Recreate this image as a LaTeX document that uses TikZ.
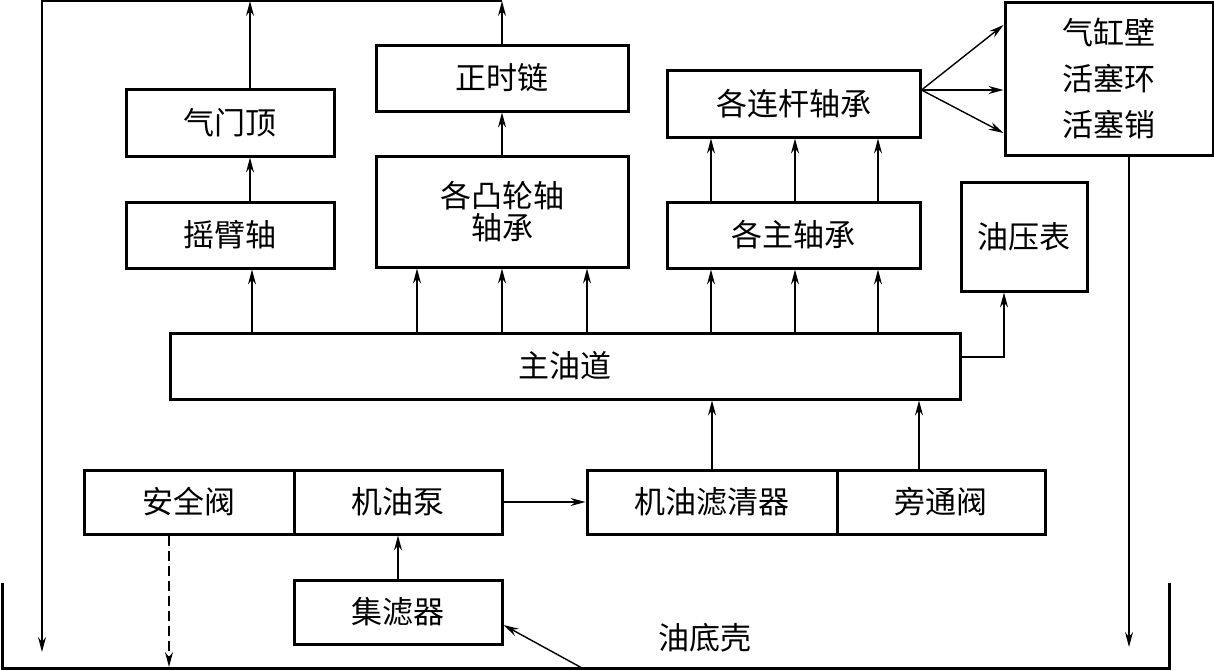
\documentclass[tikz,border=0pt]{standalone}
\usepackage{fontspec}
\newfontfamily\cjkfont{Noto Sans CJK SC}
\usetikzlibrary{arrows.meta}

\begin{document}
\begin{tikzpicture}[
  x=0.5pt, y=-0.5pt,
  partbox/.style={draw, line width=1.5pt, inner sep=0pt, align=center,
    font=\cjkfont\fontsize{15.5}{16}\selectfont},
  oilarrow/.style={-{Stealth[length=7.5pt,width=4pt,inset=2.5pt]}, line width=0.7pt},
  reliefline/.style={oilarrow, dash pattern=on 5pt off 2.5pt},
  panwall/.style={line width=1.5pt}
]
\useasboundingbox (0,0) rectangle (1214,670);

% parts
\node[partbox, minimum width=104pt, minimum height=33.5pt] (valvetop) at (230,122.5) {气门顶};
\node[partbox, minimum width=104pt, minimum height=33pt] (rocker) at (230,235) {摇臂轴};
\node[partbox, minimum width=126pt, minimum height=33pt] (chain) at (502,78) {正时链};
\node[partbox, minimum width=126pt, minimum height=55.5pt] (cam) at (502,211.5) {各凸轮轴\\轴承};
\node[partbox, minimum width=126.5pt, minimum height=33.5pt] (rod) at (793.5,103.5) {各连杆轴承};
\node[partbox, minimum width=126.5pt, minimum height=33pt] (mainbr) at (793.5,235) {各主轴承};
\node[partbox, minimum width=104pt, minimum height=76.5pt] (cyl) at (1109,78.5) {气缸壁\\[7pt]活塞环\\[7pt]活塞销};
\node[partbox, minimum width=63pt, minimum height=54.5pt] (gauge) at (1024,236.5) {油压表};
\node[partbox, minimum width=395pt, minimum height=33pt] (gallery) at (565,366) {主油道};
\node[partbox, minimum width=105pt, minimum height=32pt] (relief) at (189,502) {安全阀};
\node[partbox, minimum width=104pt, minimum height=32pt] (pump) at (398,502) {机油泵};
\node[partbox, minimum width=125pt, minimum height=32pt] (filter) at (712,502) {机油滤清器};
\node[partbox, minimum width=104pt, minimum height=32pt] (bypass) at (941,502) {旁通阀};
\node[partbox, minimum width=104pt, minimum height=32pt] (strainer) at (398,612) {集滤器};
\node[font=\cjkfont\fontsize{15.5}{16}\selectfont] (sump) at (705,638) {油底壳};

\coordinate (topleft) at (42,1);
\coordinate (leftdrop) at (42,652);
\coordinate (rightdrop) at (1129,647);
\coordinate (reliefdrop) at (169,667);
\coordinate (pickup) at (582,668);

% oil pan
\draw[panwall] (2,583) |- (1169,668) -- (1169,583);

% feed
\draw[oilarrow] (pickup) -- (strainer.east |- 0,625);
\draw[oilarrow] (strainer.north) -- (pump.south);
\draw[oilarrow] (pump.east) -- (filter.west);
\draw[reliefline] (169,0 |- relief.south) -- (reliefdrop);
\draw[oilarrow] (filter.north) -- (filter.north |- gallery.south);
\draw[oilarrow] (919,0 |- bypass.north) -- (919,0 |- gallery.south);

% gallery outlets
\draw[oilarrow] (252,0 |- gallery.north) -- (252,0 |- rocker.south);
\draw[oilarrow] (250,0 |- rocker.north) -- (250,0 |- valvetop.south);
\foreach \x in {417,502,587}
  \draw[oilarrow] (\x,0 |- gallery.north) -- (\x,0 |- cam.south);
\draw[oilarrow] (cam.north) -- (chain.south);
\foreach \x in {711,795,878} {
  \draw[oilarrow] (\x,0 |- gallery.north) -- (\x,0 |- mainbr.south);
  \draw[oilarrow] (\x,0 |- mainbr.north) -- (\x,0 |- rod.south);
}
\foreach \y in {25,90,133}
  \draw[oilarrow] (rod.east |- 0,90) -- (cyl.west |- 0,\y);
\draw[oilarrow] (gallery.east |- 0,357) -| (1004,0 |- gauge.south);

% return to pan
\draw[oilarrow] (250,0 |- valvetop.north) -- (250,0 |- topleft);
\draw[oilarrow] (chain.north) -- (chain.north |- topleft);
\draw[oilarrow] (chain.north |- topleft) -- (topleft) -- (leftdrop);
\draw[oilarrow] (1129,0 |- cyl.south) -- (rightdrop);
\end{tikzpicture}
\end{document}
